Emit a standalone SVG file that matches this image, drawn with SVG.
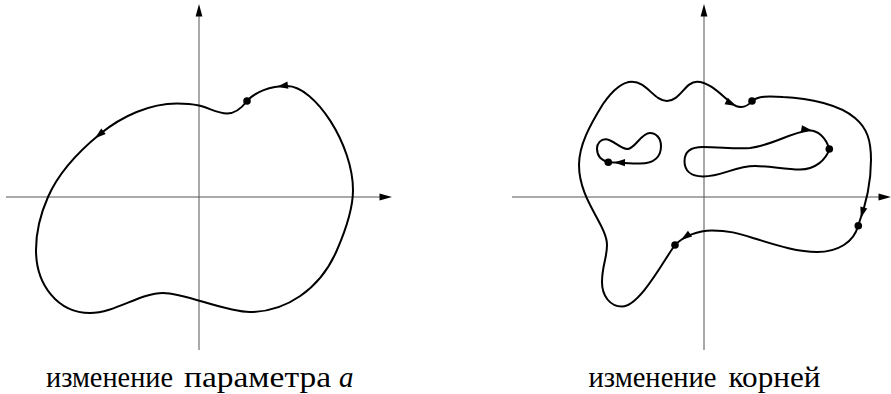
<svg xmlns="http://www.w3.org/2000/svg" xmlns:xlink="http://www.w3.org/1999/xlink" width="891" height="394" viewBox="0 0 891 394">
<style>
.axis{stroke:#555;stroke-width:1;fill:none}
.curve{stroke:#000;stroke-width:2;fill:none;stroke-linejoin:round;stroke-linecap:round}
.dot{fill:#000}
.lbl{font-family:"Liberation Serif","DejaVu Serif",serif;font-size:29px;fill:#000}
</style>
<defs>
<path id="ah" d="M0,0 L-11,-3.6 L-11,3.6 Z" fill="#000"/>
<path id="ax" d="M0,0 L-12.5,-3.4 L-12.5,3.4 Z" fill="#000"/>
</defs>
<g id="left-axes">
<path class="axis" d="M199,350 V12 M6,197 H384"/>
<use xlink:href="#ax" href="#ax" transform="translate(199,4) rotate(-90)"/>
<use xlink:href="#ax" href="#ax" transform="translate(392,197)"/>
</g>
<g id="left-curve">
<path class="curve" d="M247,101 C241,109 235,113.5 227,113.5 C218,113.5 208,107.5 199,105.5 C192,104 185,103.5 177,103.5 C150,103.5 122,116 100,134 C78,152 58,174 48,197 C40,215 36,232 36,250 C36,285 58,313 90,313 C115,313 140,293 163,293 C185,293 225,312 250,312 C285,312 320,290 337,250 C347,227 353,208 353,190 C353,145 315,86 287,86 C270,86 255,92 247,101 Z"/>
<use xlink:href="#ah" href="#ah" transform="translate(277,86.7) rotate(172)"/>
<use xlink:href="#ah" href="#ah" transform="translate(95,138.3) rotate(140.7)"/>
<circle class="dot" cx="247" cy="101" r="3.8"/>
</g>
<g id="right-axes">
<path class="axis" d="M704,350 V12 M512,197 H883"/>
<use xlink:href="#ax" href="#ax" transform="translate(704,4) rotate(-90)"/>
<use xlink:href="#ax" href="#ax" transform="translate(891,197)"/>
</g>
<g id="right-outer">
<path class="curve" d="M675,245 C665,258 640,306.5 622,306.5 C610,306.5 602,296 602,282 C602,266 607,258 607,245 C607,225 579,200 579,165 C579,145 590,125 603,104 C612,91 622,81.7 632,81.7 C647,81.7 654,101 667,101 C680,101 685,81.7 697,81.7 C712,81.7 726,101 736,106 C742,108.5 748,106 752,101 C758,96 768,96 783,97 C810,98 840,105 855,118 C867,128 871,140 871,160 C871,185 866,205 858,226 C854,242 838,252 817,252 C795,252 770,243 753,238 C738,233 728,230.5 712,230.5 C698,230.5 684,236 675,245 Z"/>
<use xlink:href="#ah" href="#ah" transform="translate(736,106) rotate(27)"/>
<use xlink:href="#ah" href="#ah" transform="translate(860.8,218) rotate(106)"/>
<use xlink:href="#ah" href="#ah" transform="translate(681,239.9) rotate(145)"/>
<circle class="dot" cx="752" cy="101" r="3.8"/>
<circle class="dot" cx="858.3" cy="225.7" r="3.8"/>
<circle class="dot" cx="675" cy="245" r="3.8"/>
</g>
<g id="right-inner">
<path class="curve" d="M829.3,149 C826,160 815,169.5 800,169.5 C785,169.5 770,166 755,166 C735,166 722,176.5 703,176.5 C690,176.5 684.5,170 684.5,161 C684.5,152 690,147 703,147 C720,147 735,149 750,148 C770,146 790,133 808,130.5 C818,129.5 826,138 829.3,149 Z"/>
<use xlink:href="#ah" href="#ah" transform="translate(812.2,130.6) rotate(10)"/>
<circle class="dot" cx="829.3" cy="149" r="3.8"/>
</g>
<g id="right-small">
<path class="curve" d="M608.3,162.3 C600,160 597,155 597,148.5 C597,143 601,139.3 605.5,139.3 C613,139.3 620,149 627.3,149 C635,149 641,133 650,133 C656,133 661,138 661,146 C661,156 655,163.5 640,163.5 C630,163.5 620,162.5 608.3,162.3 Z"/>
<use xlink:href="#ah" href="#ah" transform="translate(614,162.4) rotate(181)"/>
<circle class="dot" cx="608.3" cy="162.3" r="3.8"/>
</g>
<g id="labels">
<text class="lbl" x="46" y="386.5" textLength="127" lengthAdjust="spacingAndGlyphs">изменение</text>
<text class="lbl" x="184" y="386.5" textLength="147" lengthAdjust="spacingAndGlyphs">параметра</text>
<text class="lbl" x="339" y="386.5" font-style="italic">a</text>
<text class="lbl" x="588.5" y="386.5" textLength="128" lengthAdjust="spacingAndGlyphs">изменение</text>
<text class="lbl" x="728.5" y="386.5" textLength="92" lengthAdjust="spacingAndGlyphs">корней</text>
</g>
</svg>
